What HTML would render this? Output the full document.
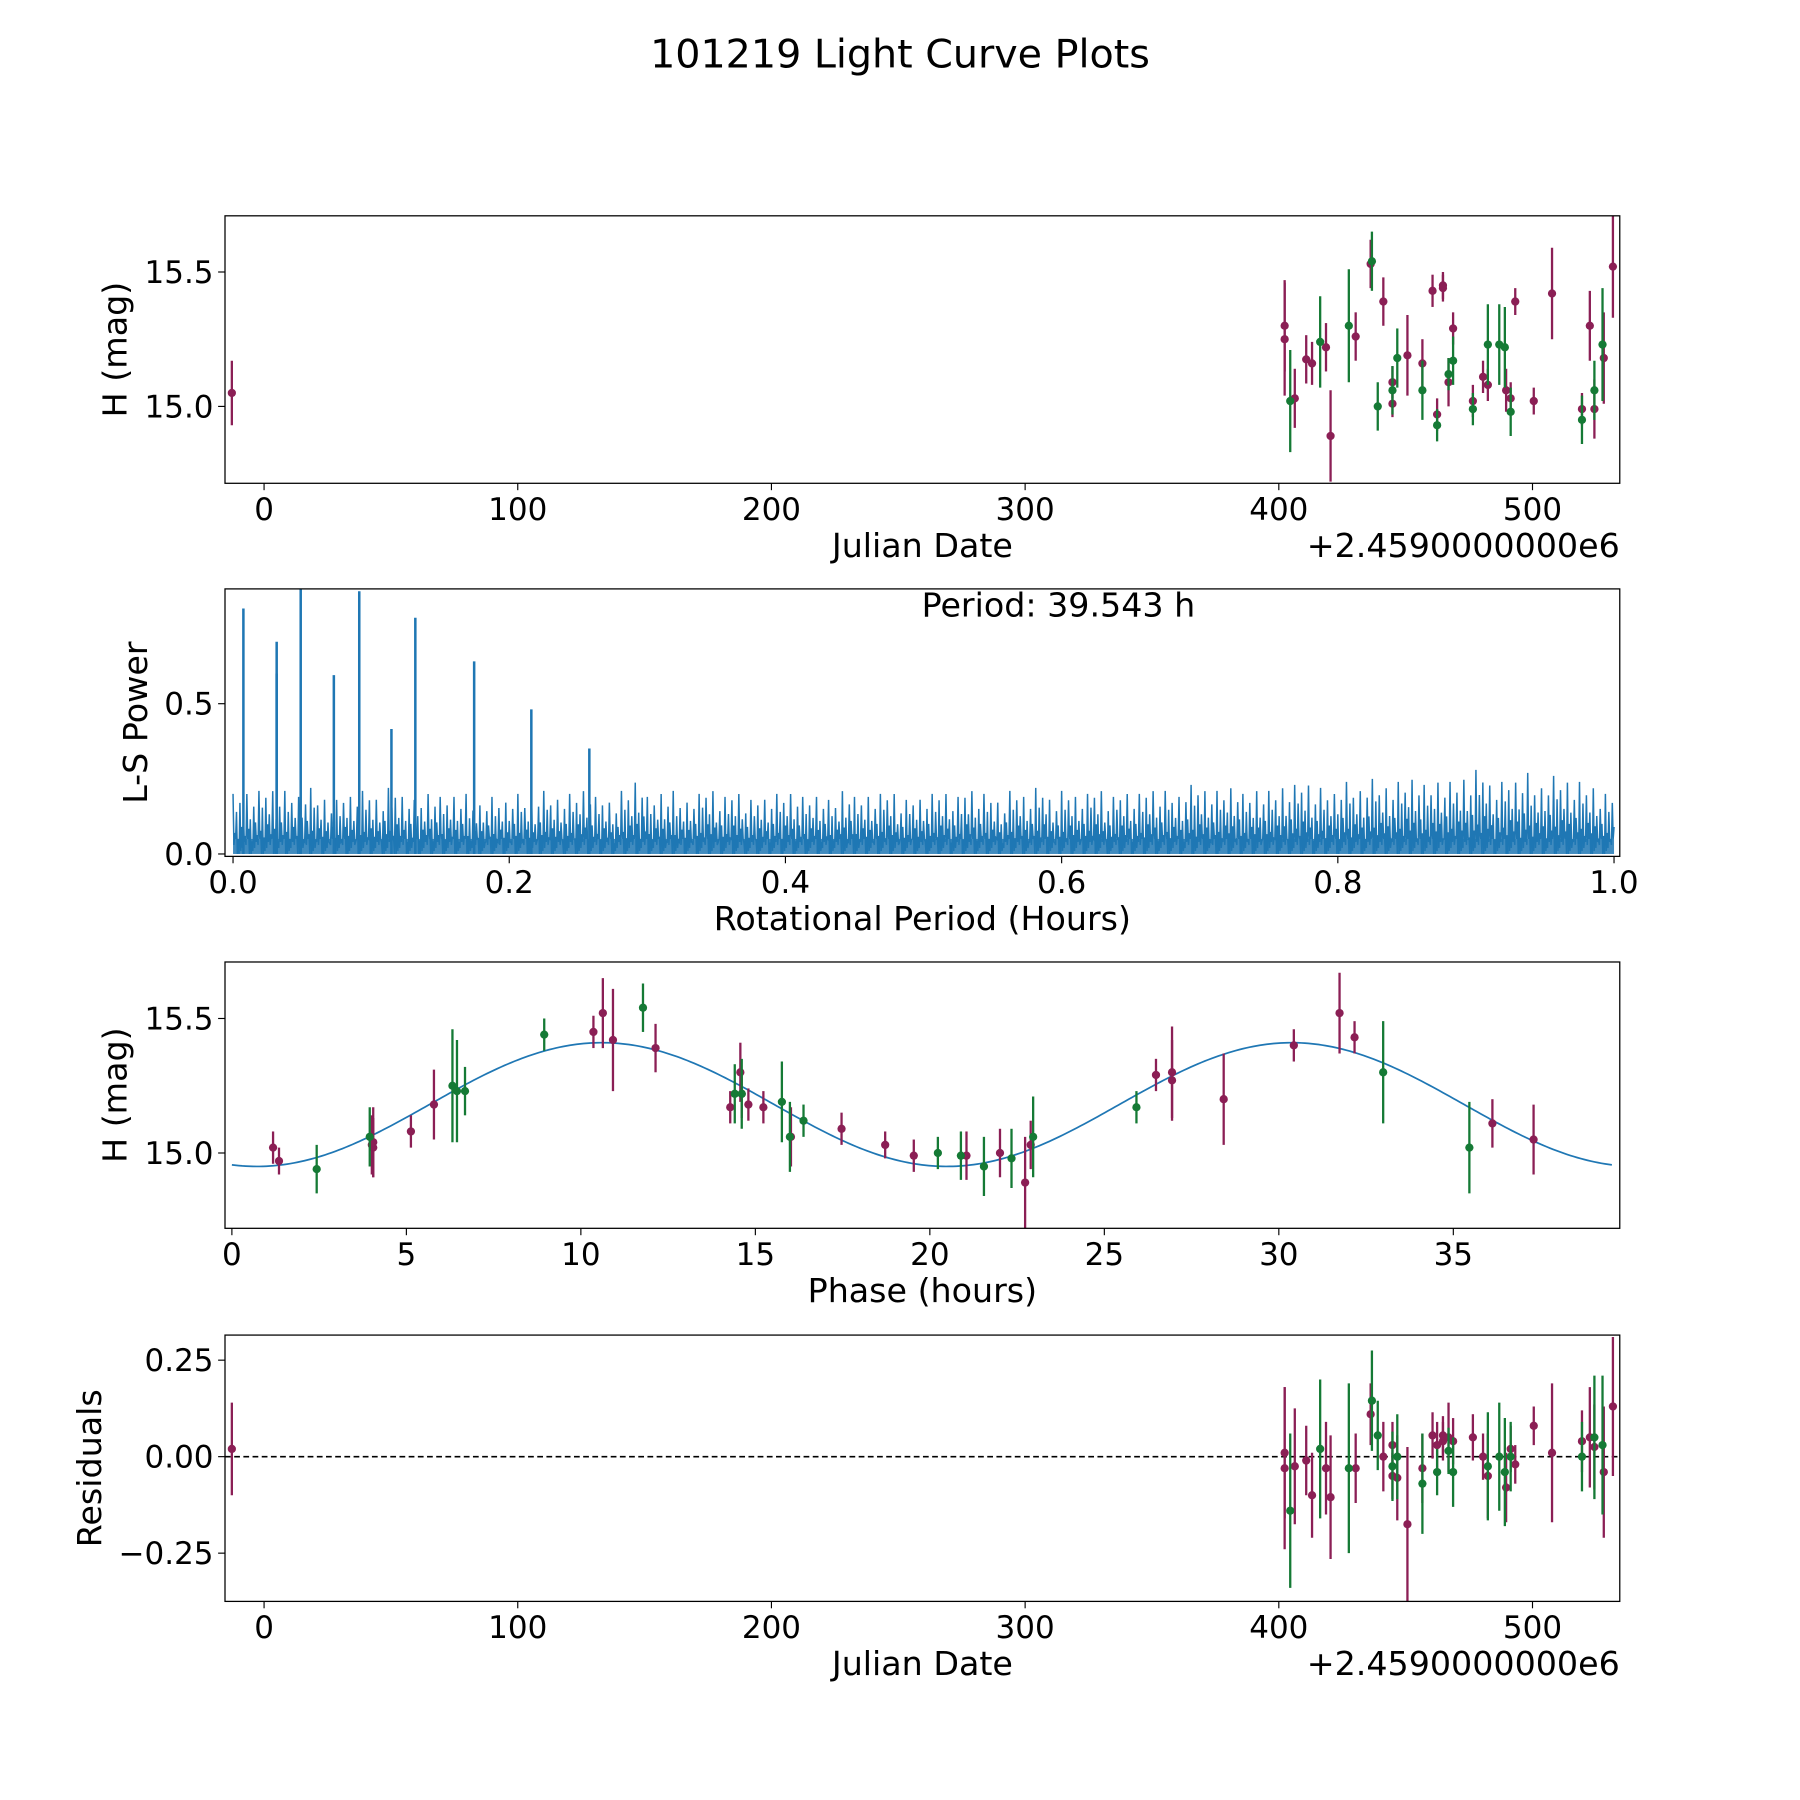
<!DOCTYPE html>
<html><head><meta charset="utf-8"><style>
html,body{margin:0;padding:0;background:#fff}
svg{display:block;font-family:"DejaVu Sans","Liberation Sans",sans-serif}
</style></head><body>
<svg id="fig" xmlns="http://www.w3.org/2000/svg" width="1800" height="1800" viewBox="0 0 1568 1568">
<rect width="1568" height="1568" fill="#fff"/>
<text x="784" y="59" font-size="34.5" text-anchor="middle" fill="#000">101219 Light Curve Plots</text>
</svg>
<script>
// ---------- Data ----------
const magJd = [-12.7,402.3,402.3,406.3,410.8,413.1,418.6,420.4,430.3,436.2,441.2,444.8,444.8,450.7,456.6,460.6,462.4,464.7,464.7,466.9,468.7,476.5,480.5,482.4,489.6,491.4,493.2,500.5,507.7,519.5,522.6,524.4,528.1,531.7,
 404.5,416.3,427.6,436.7,439.0,444.8,446.7,456.6,462.4,466.9,468.7,476.5,482.4,486.9,489.1,491.4,519.5,524.4,527.6];
const magVal = [15.05,15.30,15.25,15.03,15.175,15.16,15.22,14.89,15.26,15.53,15.39,15.09,15.01,15.19,15.16,15.43,14.97,15.44,15.45,15.09,15.29,15.02,15.11,15.08,15.06,15.03,15.39,15.02,15.42,14.99,15.30,14.99,15.18,15.52,
 15.02,15.24,15.30,15.54,15.0,15.06,15.18,15.06,14.93,15.12,15.17,14.99,15.23,15.23,15.22,14.98,14.95,15.06,15.23];
const magErr = [0.12,0.17,0.21,0.11,0.09,0.08,0.09,0.17,0.09,0.09,0.09,0.06,0.05,0.15,0.09,0.06,0.06,0.05,0.05,0.09,0.06,0.06,0.06,0.06,0.08,0.06,0.05,0.05,0.17,0.06,0.13,0.11,0.17,0.19,
 0.19,0.17,0.21,0.11,0.09,0.09,0.11,0.11,0.06,0.06,0.09,0.06,0.15,0.15,0.15,0.09,0.09,0.11,0.21];
const magColor = ['p','p','p','p','p','p','p','p','p','p','p','p','p','p','p','p','p','p','p','p','p','p','p','p','p','p','p','p','p','p','p','p','p','p',
 'g','g','g','g','g','g','g','g','g','g','g','g','g','g','g','g','g','g','g'];

const peakPeriod = [0.0075,0.0316,0.0316,0.049,0.073,0.0914,0.1147,0.132,0.1746,0.216,0.258];
const peakPower = [0.817,0.706,0.60,0.89,0.595,0.874,0.416,0.786,0.641,0.481,0.351];
const noiseEnvelope = [0.20,0.21,0.22,0.21,0.20,0.22,0.19,0.18,0.20,0.21,
 0.19,0.22,0.20,0.18,0.21,0.19,0.20,0.17,0.19,0.18,
 0.20,0.18,0.21,0.19,0.20,0.22,0.19,0.18,0.21,0.25,
 0.19,0.21,0.18,0.20,0.22,0.19,0.21,0.18,0.19,0.20,
 0.21,0.19,0.20,0.18,0.22,0.19,0.20,0.21,0.18,0.19,
 0.20,0.21,0.19,0.22,0.20,0.18,0.21,0.20,0.22,0.19,
 0.21,0.20,0.22,0.19,0.21,0.20,0.22,0.21,0.20,0.23,
 0.22,0.21,0.23,0.20,0.22,0.21,0.23,0.24,0.22,0.21,
 0.24,0.22,0.25,0.23,0.24,0.26,0.23,0.25,0.24,0.26,
 0.28,0.24,0.25,0.27,0.23,0.26,0.25,0.24,0.23,0.20];
const bestPeriodLabel = "Period: 39.543 h";

const phaseVal = [1.18,1.35,4.01,4.05,4.05,5.13,5.79,10.36,10.63,10.92,12.14,14.28,14.57,14.61,14.80,15.23,16.02,17.47,18.72,19.54,21.05,22.01,22.73,22.89,26.48,26.94,26.94,28.42,30.43,31.74,32.17,36.12,37.30,
 2.43,3.95,6.32,6.45,6.68,8.95,11.78,14.41,14.61,15.76,15.99,16.38,20.23,20.89,21.55,22.34,22.96,25.92,32.99,35.46];
const phaseMag = [15.02,14.97,15.03,15.02,15.04,15.08,15.18,15.45,15.52,15.42,15.39,15.17,15.30,15.22,15.18,15.17,15.06,15.09,15.03,14.99,14.99,15.0,14.89,15.03,15.29,15.27,15.30,15.2,15.40,15.52,15.43,15.11,15.05,
 14.94,15.06,15.25,15.23,15.23,15.44,15.54,15.22,15.22,15.19,15.06,15.12,15.0,14.99,14.95,14.98,15.06,15.17,15.30,15.02];
const phaseErr = [0.06,0.05,0.11,0.11,0.13,0.06,0.13,0.06,0.13,0.19,0.09,0.06,0.11,0.09,0.06,0.06,0.11,0.06,0.05,0.06,0.09,0.09,0.17,0.09,0.06,0.15,0.17,0.17,0.06,0.15,0.06,0.09,0.13,
 0.09,0.11,0.21,0.19,0.09,0.06,0.09,0.11,0.13,0.15,0.13,0.06,0.06,0.09,0.11,0.11,0.15,0.06,0.19,0.17];
const phaseColor = ['p','p','p','p','p','p','p','p','p','p','p','p','p','p','p','p','p','p','p','p','p','p','p','p','p','p','p','p','p','p','p','p','p',
 'g','g','g','g','g','g','g','g','g','g','g','g','g','g','g','g','g','g','g','g'];
const modelMean = 15.18, modelAmp = 0.23, modelPeak = 10.6, modelHalfPeriod = 19.77, modelEnd = 39.543;

const resJd = [-12.7,402.3,402.3,406.3,410.8,413.1,418.6,420.4,430.3,436.2,441.2,444.8,444.8,446.7,450.7,456.6,460.6,462.4,464.7,464.7,466.9,468.7,476.5,480.5,482.4,489.6,491.4,493.2,500.5,507.7,519.5,522.6,524.4,528.1,531.7,
 404.5,416.3,427.6,436.7,439.0,444.8,446.7,456.6,462.4,466.9,468.7,482.4,486.9,489.1,491.4,519.5,524.4,527.6];
const resVal = [0.02,-0.03,0.01,-0.025,-0.01,-0.10,-0.03,-0.105,-0.03,0.11,0.0,0.03,-0.05,-0.055,-0.175,-0.03,0.055,0.03,0.04,0.055,0.05,0.04,0.05,0.0,-0.05,-0.08,0.02,-0.02,0.08,0.01,0.04,0.05,0.025,-0.04,0.13,
 -0.14,0.02,-0.03,0.145,0.055,-0.025,0.0,-0.07,-0.04,0.015,-0.04,-0.025,0.0,-0.04,0.0,0.0,0.05,0.03];
const resErr = [0.12,0.21,0.17,0.15,0.09,0.11,0.12,0.16,0.09,0.08,0.09,0.06,0.06,0.11,0.2,0.09,0.06,0.06,0.05,0.05,0.09,0.06,0.06,0.06,0.11,0.09,0.06,0.05,0.05,0.18,0.08,0.13,0.11,0.17,0.18,
 0.2,0.18,0.22,0.13,0.09,0.09,0.11,0.13,0.06,0.06,0.09,0.14,0.14,0.14,0.09,0.09,0.16,0.18];
const resColor = ['p','p','p','p','p','p','p','p','p','p','p','p','p','p','p','p','p','p','p','p','p','p','p','p','p','p','p','p','p','p','p','p','p','p','p',
 'g','g','g','g','g','g','g','g','g','g','g','g','g','g','g','g','g','g'];

// ---------- Rendering ----------
const NS = "http://www.w3.org/2000/svg";
const svg = document.getElementById('fig');
const COL = {p:'#8b1f55', g:'#157a35'};
const TICK_FS = 27, LABEL_FS = 29;
function mk(tag, attrs, parent){const e=document.createElementNS(NS,tag);for(const k in attrs)e.setAttribute(k,attrs[k]);(parent||svg).appendChild(e);return e;}
function lin(d0,d1,p0,p1){return v=>p0+(v-d0)*(p1-p0)/(d1-d0);}

function panel(name, L, T, R, B, xs, ys, xticks, xlabs, yticks, ylabs, xlabel, ylabel, ylabelX, offset){
  const g = mk('g',{});
  
  
  const clip = mk('clipPath',{id:name+'-clip'},g);
  mk('rect',{x:L,y:T,width:R-L,height:B-T},clip);
  const plot = mk('g',{'clip-path':'url(#'+name+'-clip)'},g);
  
  
  const fr = mk('g',{},g);
  xticks.forEach((t,i)=>{const x=xs(t);mk('line',{x1:x,x2:x,y1:B,y2:B+6,stroke:'#000','stroke-width':1},fr);
    const tx=mk('text',{x:x,y:B+32,'font-size':TICK_FS,'text-anchor':'middle'},fr);tx.textContent=xlabs[i];
    
    });
  yticks.forEach((t,i)=>{const y=ys(t);mk('line',{x1:L-6,x2:L,y1:y,y2:y,stroke:'#000','stroke-width':1},fr);
    const tx=mk('text',{x:L-10,y:y+9.5,'font-size':TICK_FS,'text-anchor':'end'},fr);tx.textContent=ylabs[i];
    
    });
  const xl=mk('text',{x:(L+R)/2,y:B+64,'font-size':LABEL_FS,'text-anchor':'middle'},fr);xl.textContent=xlabel;
  
  
  const yl=mk('text',{x:ylabelX,y:(T+B)/2,'font-size':LABEL_FS,'text-anchor':'middle',transform:'rotate(-90 '+ylabelX+' '+(T+B)/2+')'},fr);yl.textContent=ylabel;
  
  
  if(offset){const o=mk('text',{x:R,y:B+64,'font-size':LABEL_FS,'text-anchor':'end'},fr);o.textContent=offset;
    
    }
  const border = mk('rect',{x:L,y:T,width:R-L,height:B-T,fill:'none',stroke:'#000','stroke-width':1.1},fr);
  
  
  return plot;
}

function errPoints(plot, xs, ys, X, Y, E, C, label){
  for(let i=0;i<X.length;i++){
    const x=xs(X[i]), c=COL[C[i]];
    const l=mk('line',{x1:x,x2:x,y1:ys(Y[i]-E[i]),y2:ys(Y[i]+E[i]),stroke:c,'stroke-width':2},plot);
    
    
    const p=mk('circle',{cx:x,cy:ys(Y[i]),r:3.6,fill:c},plot);
    
    
  }
}

// Panel 1: light curve
{
  const L=196,R=1411,T=188,B=421;
  const xs=lin(-15.4,534.4,L,R), ys=lin(14.714,15.709,B,T);
  const plot=panel('light-curve-panel',L,T,R,B,xs,ys,[0,100,200,300,400,500],['0','100','200','300','400','500'],[15.0,15.5],['15.0','15.5'],'Julian Date','H (mag)',110,'+2.4590000000e6');
  errPoints(plot,xs,ys,magJd,magVal,magErr,magColor,'magnitude');
}
// Panel 2: periodogram
{
  const L=196,R=1411,T=513,B=746;
  const xs=lin(0,1,203,1406), ys=lin(-0.008,0.882,B,T);
  const plot=panel('periodogram-panel',L,T,R,B,xs,ys,[0,0.2,0.4,0.6,0.8,1.0],['0.0','0.2','0.4','0.6','0.8','1.0'],[0,0.5],['0.0','0.5'],'Rotational Period (Hours)','L-S Power',128,null);
  const pattern=[1,0.35,0.7,0.25,0.85,0.45,0.6,0.3,0.95,0.4,0.55,0.2,0.75,0.5,0.3];
  const low=[0.0,0.03,0.01,0.05,0.02,0.0,0.04];
  let d='';
  const N=1600;
  for(let i=0;i<=N;i++){
    const v=i/N; const b=Math.min(noiseEnvelope.length-1,Math.floor(v*noiseEnvelope.length));
    const h=(i%2===0)? noiseEnvelope[b]*pattern[(i>>1)%pattern.length] : low[i%low.length];
    d+=(i?'L':'M')+xs(v).toFixed(2)+' '+ys(h).toFixed(2);
  }
  const pl=mk('path',{d:d,fill:'none',stroke:'#1f77b4','stroke-width':1.3},plot);
  
  
  mk('rect',{x:xs(0),y:ys(0.05),width:xs(1)-xs(0),height:ys(0)-ys(0.05),fill:'#1f77b4',opacity:0.85},plot);
  for(let i=0;i<peakPeriod.length;i++){
    const x=xs(peakPeriod[i]);
    const s=mk('line',{x1:x,x2:x,y1:ys(0),y2:ys(peakPower[i]),stroke:'#1f77b4','stroke-width':2.2},plot);
    
    
  }
  const t=mk('text',{x:922,y:537,'font-size':LABEL_FS,'text-anchor':'middle'});t.textContent=bestPeriodLabel;
  
  
}
// Panel 3: phased
{
  const L=196,R=1411,T=838,B=1070;
  const xs=lin(0,35,202,1266), ys=lin(14.72,15.71,B,T);
  const plot=panel('phased-curve-panel',L,T,R,B,xs,ys,[0,5,10,15,20,25,30,35],['0','5','10','15','20','25','30','35'],[15.0,15.5],['15.0','15.5'],'Phase (hours)','H (mag)',110,null);
  let d='';
  for(let i=0;i<=400;i++){const p=modelEnd*i/400;const m=modelMean+modelAmp*Math.cos(2*Math.PI*(p-modelPeak)/modelHalfPeriod);d+=(i?'L':'M')+xs(p).toFixed(2)+' '+ys(m).toFixed(2);}
  const c=mk('path',{d:d,fill:'none',stroke:'#1f77b4','stroke-width':1.5},plot);
  
  
  errPoints(plot,xs,ys,phaseVal,phaseMag,phaseErr,phaseColor,'phased');
}
// Panel 4: residuals
{
  const L=196,R=1411,T=1163,B=1395;
  const xs=lin(-15.4,534.4,L,R), ys=lin(-0.375,0.315,B,T);
  const plot=panel('residuals-panel',L,T,R,B,xs,ys,[0,100,200,300,400,500],['0','100','200','300','400','500'],[0.25,0,-0.25],['0.25','0.00','\u22120.25'],'Julian Date','Residuals',88,'+2.4590000000e6');
  const z=mk('line',{x1:L,x2:R,y1:ys(0),y2:ys(0),stroke:'#000','stroke-width':1.4,'stroke-dasharray':'5,3'},plot);
  
  
  errPoints(plot,xs,ys,resJd,resVal,resErr,resColor,'residual');
}
</script>
</body></html>
